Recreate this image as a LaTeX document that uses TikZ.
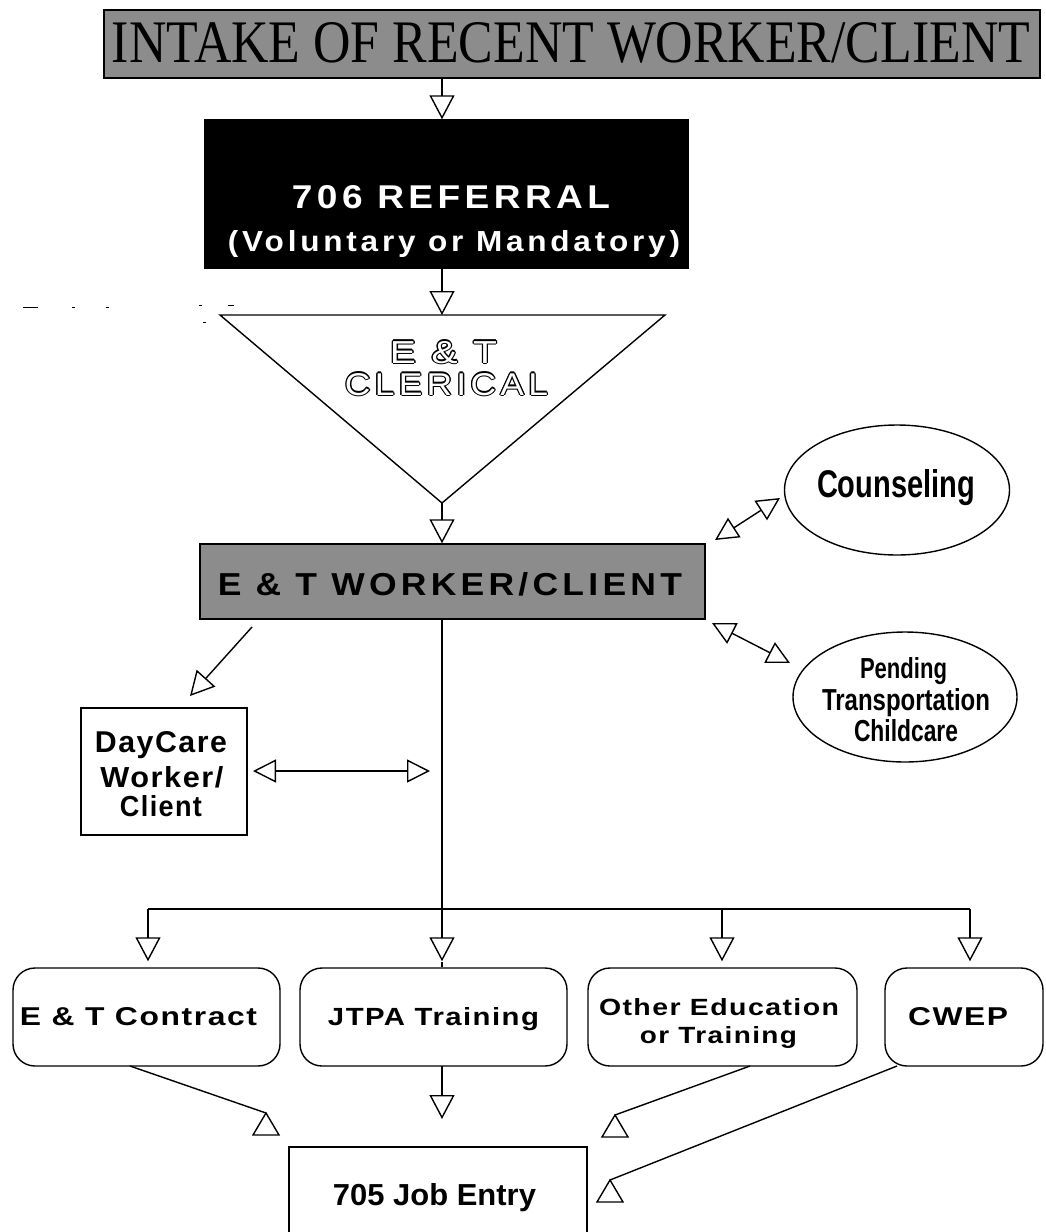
\documentclass[tikz,border=0pt]{standalone}
\usepackage{fontspec}
\setmainfont{Liberation Serif}
\setsansfont{Liberation Sans}
\newfontfamily\spaced[LetterSpace=12]{Liberation Sans}
\newfontfamily\spacedb[LetterSpace=5]{Liberation Sans}
\usepackage{graphicx}
\usetikzlibrary{arrows.meta,shapes.geometric}
\newcommand\fitt[3]{\resizebox{#1pt}{#2pt}{#3}}
\newcommand\uptri[1]{\draw[ln,fill=white] (#1) -- ++(-13,22) -- ++(26,0) -- cycle;}
\tikzset{
  ln/.style={line width=1.4pt},
  arr/.style={ln,-{Triangle[open,length=24pt,width=25pt]}},
  darr/.style={ln,{Triangle[open,length=23pt,width=23pt]}-{Triangle[open,length=23pt,width=23pt]}},
  lbl/.style={inner sep=0pt,anchor=base},
  plainbox/.style={draw,ln,inner sep=0pt},
  rbox/.style={draw,ln,inner sep=0pt,rounded corners=22pt,minimum height=98pt},
  oval/.style={draw,ln,ellipse,inner sep=0pt}
}
\begin{document}
\begin{tikzpicture}[x=1pt,y=-1pt]
\clip (0,0) rectangle (1045,1232);
\fill[white] (0,0) rectangle (1045,1232);

% stray scan marks
\draw[line width=1pt] (23,307) -- (38,307);
\draw[line width=1pt] (72,307) -- (75,307);
\draw[line width=1pt] (106,307) -- (109,307);
\draw[line width=1pt] (199,305) -- (202,305);
\draw[line width=1pt] (228,305) -- (234,305);
\draw[line width=1pt] (203,322) -- (206,322);

% banner
\node[plainbox,fill=black!45,minimum width=936pt,minimum height=68pt] (banner) at (572,44) {};
\node[lbl] (bannerT) at (571,62) {\fitt{918}{40}{\rmfamily INTAKE OF RECENT WORKER/CLIENT}};

% referral box
\node[plainbox,fill=black,minimum width=483pt,minimum height=148pt] (ref) at (446.5,194) {};
\node[lbl,white] (refA) at (451,208) {\fitt{318}{23}{\spaced\bfseries 706 REFERRAL}};
\node[lbl,white] (refB) at (454,251) {\fitt{452}{21}{\spaced\bfseries (Voluntary or Mandatory)}};

% clerical triangle
\coordinate (triL) at (220,315);
\coordinate (triR) at (665,315);
\coordinate (triB) at (442,503);
\coordinate (triT) at (442,315);
\draw[ln] (triL) -- (triR) -- (triB) -- cycle;
\foreach \dx/\dy in {1.3/0,-1.3/0,0/1.3,0/-1.3,0.9/0.9,-0.9/0.9,0.9/-0.9,-0.9/-0.9}{
  \node[lbl,xshift=\dx pt,yshift=\dy pt] at (443.5,363) {\fitt{107}{22}{\spaced E \& T}};
  \node[lbl,xshift=\dx pt,yshift=\dy pt] at (446.5,395) {\fitt{203}{22}{\spaced CLERICAL}};
}
\node[lbl,white] (clerA) at (443.5,363) {\fitt{107}{22}{\spaced E \& T}};
\node[lbl,white] (clerB) at (446.5,395) {\fitt{203}{22}{\spaced CLERICAL}};

% worker box
\node[plainbox,fill=black!45,minimum width=505pt,minimum height=75pt] (worker) at (452.5,581.5) {};
\node[lbl] (workerT) at (450,595) {\fitt{464}{23}{\spaced\bfseries E \& T WORKER/CLIENT}};

% counseling
\node[oval,minimum width=225pt,minimum height=130pt] (couns) at (897,490) {};
\node[lbl] (counsT) at (896,497) {\fitt{158}{28}{\sffamily\bfseries Counseling}};

% pending
\node[oval,minimum width=224pt,minimum height=130pt] (pend) at (905,697) {};
\node[lbl] (pendA) at (903.5,678) {\fitt{87}{21}{\sffamily\bfseries Pending}};
\node[lbl] (pendB) at (906,710) {\fitt{168}{22}{\sffamily\bfseries Transportation}};
\node[lbl] (pendC) at (906,741) {\fitt{104}{22}{\sffamily\bfseries Childcare}};

% daycare
\node[plainbox,minimum width=166pt,minimum height=127pt] (daycare) at (164,771.5) {};
\node[lbl] (dayA) at (161,752) {\fitt{132}{21}{\spacedb\bfseries DayCare}};
\node[lbl] (dayB) at (162,787) {\fitt{123}{21}{\spacedb\bfseries Worker/}};
\node[lbl] (dayC) at (161,816) {\fitt{82}{21}{\spacedb\bfseries Client}};

% bottom boxes
\node[rbox,minimum width=267pt] (etc) at (146.5,1017) {};
\node[rbox,minimum width=267pt] (jtpa) at (433.5,1017) {};
\node[rbox,minimum width=269pt] (other) at (722.5,1017) {};
\node[rbox,minimum width=158pt] (cwep) at (964,1017) {};
\node[lbl] (etcT) at (138.5,1025) {\fitt{237}{18}{\spacedb\bfseries E \& T Contract}};
\node[lbl] (jtpaT) at (433.5,1025) {\fitt{211}{18}{\spacedb\bfseries JTPA Training}};
\node[lbl] (otherA) at (719,1015) {\fitt{240}{17}{\spacedb\bfseries Other Education}};
\node[lbl] (otherB) at (718.5,1043) {\fitt{157}{17}{\spacedb\bfseries or Training}};
\node[lbl] (cwepT) at (958,1025) {\fitt{100}{18}{\spacedb\bfseries CWEP}};

% job entry
\node[plainbox,minimum width=298pt,minimum height=110pt] (job) at (438,1202) {};
\node[lbl] (jobT) at (434.5,1205) {\fitt{203}{22}{\sffamily\bfseries 705 Job Entry}};

% main connectors
\draw[arr] (banner.south -| triT) -- (ref.north -| triT);
\draw[arr] (ref.south -| triT) -- (triT);
\draw[arr] (triB) -- (triB |- worker.north);

\coordinate (bus) at (442,909);
\coordinate (busL) at (148,909);
\coordinate (busO) at (722,909);
\coordinate (busR) at (970,909);
\draw[ln] (triB |- worker.south) -- (bus);
\draw[ln] (busL) -- (busR);
\draw[arr,shorten >=6pt] (busL) -- (busL |- etc.north);
\draw[arr,shorten >=6pt] (bus) -- (bus |- jtpa.north);
\coordinate (jtip) at (442,962);
\draw[ln] (jtip) -- (bus |- jtpa.north);
\draw[arr,shorten >=6pt] (busO) -- (busO |- other.north);
\draw[arr,shorten >=6pt] (busR) -- (busR |- cwep.north);

% side connectors
\coordinate (cA) at (715,540);
\coordinate (cB) at (780,498);
\draw[darr] (cA) -- (cB);
\coordinate (pA) at (712,623);
\coordinate (pB) at (790,663);
\draw[darr] (pA) -- (pB);
\coordinate (dcS) at (252,627);
\coordinate (dcE) at (190,696);
\draw[arr] (dcS) -- (dcE);
\coordinate (hL) at (253,771);
\coordinate (hR) at (430,771);
\draw[darr] (hL) -- (hR);

% bottom connectors to job entry
\coordinate (a1s) at (130,1066);
\coordinate (a1e) at (266,1113);
\draw[ln] (a1s) -- (a1e);
\uptri{a1e}
\coordinate (b1s) at (442,1066);
\coordinate (b1e) at (442,1119);
\draw[arr] (b1s) -- (b1e);
\coordinate (c1s) at (750,1066);
\coordinate (c1e) at (615,1115);
\draw[ln] (c1s) -- (c1e);
\uptri{c1e}
\coordinate (d1s) at (897,1066);
\coordinate (d1e) at (610,1180);
\draw[ln] (d1s) -- (d1e);
\uptri{d1e}
\end{tikzpicture}
\end{document}
